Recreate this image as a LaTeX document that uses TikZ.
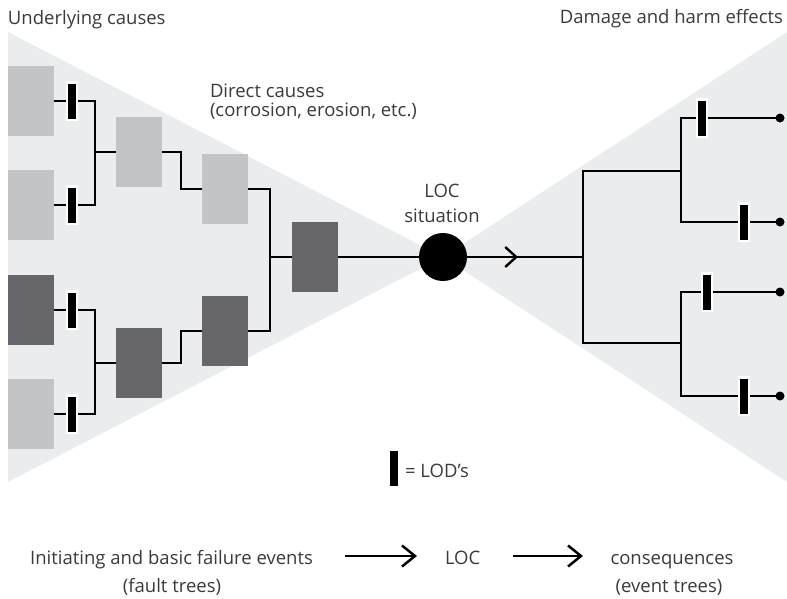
\documentclass[tikz,border=0pt]{standalone}
\usepackage{fontspec}
\setmainfont{Open Sans}
\usetikzlibrary{arrows.meta}
\definecolor{tri}{HTML}{EBECEE}
\definecolor{lbox}{HTML}{C3C4C6}
\definecolor{dbox}{HTML}{67666B}
\definecolor{txt}{HTML}{3A3A3A}
\tikzset{
  lbl/.style={inner sep=0pt, outer sep=0pt, text=txt, font=\fontsize{18.5}{20}\selectfont},
  lgt/.style={fill=lbox, draw=none, minimum width=46pt, minimum height=70pt, inner sep=0pt, outer sep=0pt},
  drk/.style={fill=dbox, draw=none, minimum width=46pt, minimum height=70pt, inner sep=0pt, outer sep=0pt},
  lod/.style={fill=black, draw=white, line width=2.5pt, minimum width=10pt, minimum height=37.5pt, inner sep=0pt},
  wire/.style={line width=2.4pt, draw=black},
  dotend/.style={circle, fill=black, minimum size=9pt, inner sep=0pt, outer sep=0pt},
  chev/.style={-{Straight Barb[length=11pt,width=20pt]}},
  bigchev/.style={line width=2.5pt, -{Straight Barb[length=13pt,width=21pt]}},
}
\begin{document}
\begin{tikzpicture}[x=1pt,y=-1pt]
\useasboundingbox (0,0) rectangle (787,598);
% bow-tie background
\fill[tri] (8,32) -- (443,257) -- (8,482) -- cycle;
\fill[tri] (787,32) -- (443,257) -- (787,482) -- cycle;

% left boxes
\node[lgt] (b1) at (31,101) {};
\node[lgt] (b2) at (31,205) {};
\node[drk] (b3) at (31,310) {};
\node[lgt] (b4) at (31,414) {};
\node[lgt] (c1) at (139,152) {};
\node[drk] (c2) at (139,363) {};
\node[lgt] (d1) at (225,189) {};
\node[drk] (d2) at (225,331) {};
\node[drk] (e1) at (315,257) {};

% LODs left
\node[lod] (L1) at (72,101) {};
\node[lod] (L2) at (72,205) {};
\node[lod] (L3) at (72,310) {};
\node[lod] (L4) at (72,414) {};

% junctions
\coordinate (j1) at (95,152);
\coordinate (j2) at (95,363);
\coordinate (k1) at (181,152);
\coordinate (k2) at (181,363);
\coordinate (m1) at (270,257);

% LOC circle
\node[circle, fill=black, minimum size=48pt, inner sep=0pt] (loc) at (443,257) {};
\coordinate (tip) at (518,257);
\coordinate (r0) at (583,257);
\coordinate (r1) at (583,171);
\coordinate (r2) at (583,343);
\coordinate (s1) at (681,171);
\coordinate (s2) at (681,343);

% right LODs and ends
\node[lod] (R1) at (702,118) {};
\node[lod] (R2) at (744,222) {};
\node[lod] (R3) at (707,292) {};
\node[lod] (R4) at (744,396) {};
\node[dotend] (t1) at (780,118) {};
\node[dotend] (t2) at (780,222) {};
\node[dotend] (t3) at (780,292) {};
\node[dotend] (t4) at (780,396) {};

% wires left
\draw[wire] (b1) -- (L1);
\draw[wire] (b2) -- (L2);
\draw[wire] (b3) -- (L3);
\draw[wire] (b4) -- (L4);
\draw[wire] (L1) -| (j1) |- (L2);
\draw[wire] (L3) -| (j2) |- (L4);
\draw[wire] (j1) -- (c1);
\draw[wire] (j2) -- (c2);
\draw[wire] (c1) -- (k1) |- (d1);
\draw[wire] (c2) -- (k2) |- (d2);
\draw[wire] (d1) -| (m1);
\draw[wire] (d2) -| (m1);
\draw[wire] (m1) -- (e1);
\draw[wire] (e1) -- (loc);

% wires right
\draw[wire] (loc) -- (r0);
\draw[wire, chev] (loc) -- (tip);
\draw[wire] (s1) -- (r1) -- (r2) -- (s2);
\draw[wire] (R1) -| (s1) |- (R2);
\draw[wire] (R3) -| (s2) |- (R4);
\draw[wire] (R1) -- (t1);
\draw[wire] (R2) -- (t2);
\draw[wire] (R3) -- (t3);
\draw[wire] (R4) -- (t4);

% texts
\node[lbl, anchor=base west] (uc) at (8,24) {Underlying causes};
\node[lbl, anchor=base east] (dh) at (783,23) {Damage and harm effects};
\node[lbl, anchor=base west] (dc1) at (210,97) {Direct causes};
\node[lbl, anchor=base west] (dc2) at (210,116) {(corrosion, erosion, etc.)};
\node[lbl, anchor=base] (ls1) at (442,197) {LOC};
\node[lbl, anchor=base] (ls2) at (442,222) {situation};

% legend
\node[fill=black, minimum width=7.5pt, minimum height=35pt, inner sep=0pt] (leg) at (394,468.5) {};
\node[lbl, anchor=base west] (legt) at (405,477) {= LOD’s};

% bottom line
\node[lbl, anchor=base] (ini1) at (171.5,564) {Initiating and basic failure events};
\node[lbl, anchor=base] (ini2) at (172,592) {(fault trees)};
\node[lbl, anchor=base west] (loc2) at (445,564) {LOC};
\node[lbl, anchor=base] (con1) at (672,564) {consequences};
\node[lbl, anchor=base] (con2) at (669,592) {(event trees)};
\coordinate (a1s) at (345,556);
\coordinate (a1e) at (417,556);
\coordinate (a2s) at (513,556);
\coordinate (a2e) at (583,556);
\draw[bigchev] (a1s) -- (a1e);
\draw[bigchev] (a2s) -- (a2e);
\end{tikzpicture}
\end{document}
